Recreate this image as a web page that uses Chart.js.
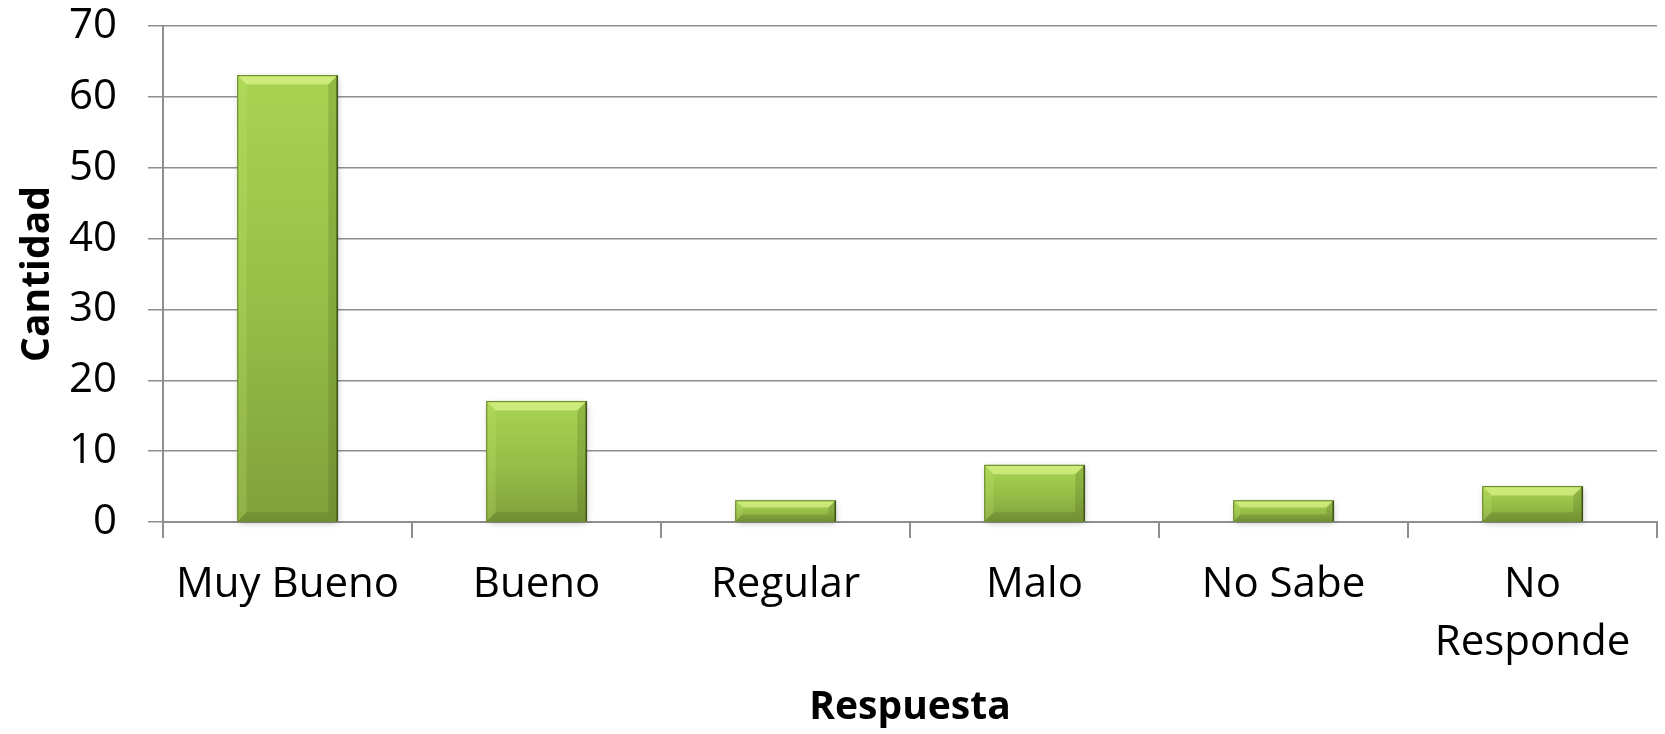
<!DOCTYPE html>
<html>
<head>
<meta charset="utf-8">
<script src="https://cdn.jsdelivr.net/npm/chart.js@4"></script>
<style>
  html, body { margin: 0; padding: 0; background: #fff; }
  #wrap { width: 1665px; height: 734px; }
</style>
</head>
<body>
<div id="wrap"><canvas id="respChart" width="1665" height="734"></canvas></div>
<script>
// Datos
const categories = ['Muy Bueno', 'Bueno', 'Regular', 'Malo', 'No Sabe', ['No', 'Responde']];
const counts = [63, 17, 3, 8, 3, 5];
const yTicks = [0, 10, 20, 30, 40, 50, 60, 70];

const FONT = "'Open Sans', sans-serif";
const GRID = '#8e8e8e';

// gradient per bar, light on top, darker at the base
function barGradient(ctx) {
    const chart = ctx.chart;
    const area = chart.chartArea;
    if (!area || ctx.type !== 'data') return '#9bc44a';
    const y = chart.scales.y;
    const top = y.getPixelForValue(ctx.parsed.y);
    const base = y.getPixelForValue(0);
    const g = chart.ctx.createLinearGradient(0, top, 0, base);
    g.addColorStop(0, '#a9d352');
    g.addColorStop(0.5, '#97bf48');
    g.addColorStop(1, '#80a03c');
    return g;
}

// small bevel + shadow like the office chart
const bevel = {
    id: 'bevel',
    beforeDatasetsDraw(chart) {
        const c = chart.ctx;
        chart.getDatasetMeta(0).data.forEach(bar => {
            const { x, y, width, base } = bar.getProps(['x', 'y', 'width', 'base'], true);
            c.save();
            c.shadowColor = 'rgba(0,0,0,0.28)';
            c.shadowBlur = 7;
            c.shadowOffsetX = 1;
            c.shadowOffsetY = 2;
            c.fillStyle = '#fff';
            c.fillRect(x - width / 2, y, width, base - y);
            c.restore();
        });
    },
    afterDatasetsDraw(chart) {
        const c = chart.ctx;
        chart.getDatasetMeta(0).data.forEach(bar => {
            const { x, y, width, base } = bar.getProps(['x', 'y', 'width', 'base'], true);
            const l = x - width / 2, r = x + width / 2;
            const b = Math.min(9, (base - y) / 3);
            c.save();
            // top bevel
            c.fillStyle = 'rgba(228,252,150,0.6)';
            c.beginPath();
            c.moveTo(l, y); c.lineTo(r, y); c.lineTo(r - b, y + b); c.lineTo(l + b, y + b);
            c.closePath(); c.fill();
            // left bevel
            c.fillStyle = 'rgba(200,235,120,0.22)';
            c.beginPath();
            c.moveTo(l, y); c.lineTo(l + b, y + b); c.lineTo(l + b, base - b); c.lineTo(l, base);
            c.closePath(); c.fill();
            // right bevel
            c.fillStyle = 'rgba(60,80,20,0.2)';
            c.beginPath();
            c.moveTo(r, y); c.lineTo(r - b, y + b); c.lineTo(r - b, base - b); c.lineTo(r, base);
            c.closePath(); c.fill();
            // bottom bevel
            c.fillStyle = 'rgba(60,80,20,0.2)';
            c.beginPath();
            c.moveTo(l, base); c.lineTo(l + b, base - b); c.lineTo(r - b, base - b); c.lineTo(r, base);
            c.closePath(); c.fill();
            // outline: light-ish top/left, dark right
            c.lineWidth = 1.2;
            c.strokeStyle = '#6f8f2c';
            c.strokeRect(l, y, width, base - y);
            c.strokeStyle = '#3f5416';
            c.lineWidth = 1.6;
            c.beginPath(); c.moveTo(r, y); c.lineTo(r, base); c.stroke();
            c.restore();
        });
    }
};

new Chart(document.getElementById('respChart'), {
    type: 'bar',
    data: {
        labels: categories,
        datasets: [{
            data: counts,
            backgroundColor: barGradient,
            borderWidth: 0,
            categoryPercentage: 1,
            barPercentage: 0.4,
        }],
    },
    options: {
        responsive: false,
        animation: false,
        layout: { padding: { top: 26, right: 8, left: 14, bottom: 3 } },
        plugins: {
            legend: { display: false },
            tooltip: { enabled: false },
        },
        scales: {
            x: {
                afterFit: (axis) => {
                    axis.height = 209;
                    axis.paddingLeft = 0;
                    axis.paddingRight = 0;
                },
                grid: {
                    offset: true,
                    drawOnChartArea: false,
                    color: GRID,
                    lineWidth: 2,
                    tickLength: 16,
                },
                border: { color: GRID, width: 2 },
                ticks: {
                    color: '#000',
                    font: { family: FONT, size: 42, lineHeight: 1.38 },
                    padding: 18,
                    maxRotation: 0,
                    autoSkip: false,
                },
                title: {
                    display: true,
                    text: 'Respuesta',
                    color: '#000',
                    font: { family: FONT, size: 39, weight: 'bold' },
                    padding: { top: 15, bottom: 0 },
                },
            },
            y: {
                min: 0,
                max: 70,
                afterBuildTicks: (axis) => { axis.ticks = yTicks.map(v => ({ value: v })); },
                afterFit: (axis) => {
                    axis.width = 149;
                    axis.paddingTop = 0;
                    axis.paddingBottom = 0;
                },
                grid: {
                    color: GRID,
                    lineWidth: 1.5,
                    tickLength: 15,
                },
                border: { color: GRID, width: 2 },
                ticks: {
                    color: '#000',
                    font: { family: FONT, size: 42, lineHeight: 1.15 },
                    padding: 31,
                },
                title: {
                    display: true,
                    text: 'Cantidad',
                    color: '#000',
                    font: { family: FONT, size: 39, weight: 'bold' },
                    padding: { top: 0, bottom: 10 },
                },
            },
        },
    },
    plugins: [bevel],
});
</script>
</body>
</html>
